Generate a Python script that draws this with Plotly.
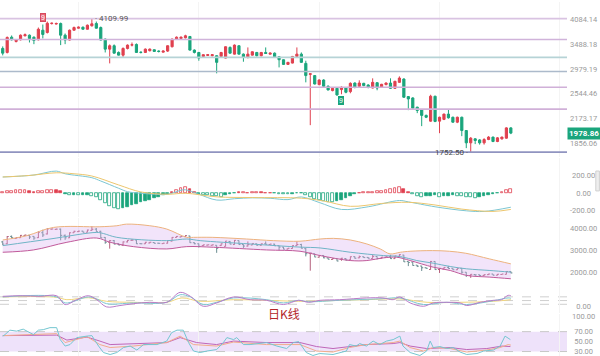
import numpy as np
import plotly.graph_objects as go

# ---------------- candle data ----------------
opens = [3397, 3311, 3650, 3552, 3590, 3683, 3697, 3650, 3590, 3816,
         3761, 3982, 3970, 3982, 3697, 3584, 3816, 3865, 3890, 3840,
         3925, 3982, 3882, 3604, 3382, 3456, 3311, 3255, 3397, 3470,
         3485, 3318, 3311, 3348, 3369, 3340, 3318, 3340, 3434, 3604,
         3620, 3636, 3667, 3361, 3311, 3228, 3249, 3243, 3243, 3228,
         3194, 3419, 3276, 3456, 3276, 3208, 3255, 3311, 3243, 3311,
         3276, 3296, 3222, 3161, 3068, 3094, 3228, 3276, 3088, 2880,
         2857, 2697, 2777, 2668, 2596, 2634, 2612, 2639, 2579, 2724,
         2668, 2719, 2690, 2639, 2730, 2651, 2697, 2724, 2634, 2736,
         2795, 2499, 2477, 2335, 2295, 2216, 2136, 2504, 2136, 2160,
         2234, 2190, 2122, 2190, 2012, 1860, 1908, 1895, 1860, 1900,
         1929, 1876, 1908, 1916, 2046]
highs = [3441, 3667, 3690, 3597, 3714, 3737, 3714, 3667, 3882, 3957,
         4033, 4007, 4007, 4007, 3737, 3833, 3907, 3907, 3907, 3957,
         4109.99, 4033, 3907, 3620, 3485, 3485, 3333, 3419, 3485, 3529,
         3507, 3333, 3397, 3397, 3376, 3354, 3354, 3463, 3620, 3667,
         3667, 3707, 3678, 3376, 3322, 3270, 3270, 3270, 3249, 3322,
         3441, 3441, 3485, 3463, 3290, 3419, 3333, 3322, 3322, 3419,
         3311, 3311, 3228, 3167, 3118, 3238, 3419, 3311, 3141, 2898,
         2861, 2790, 2790, 2685, 2642, 2651, 2668, 2651, 2736, 2736,
         2772, 2728, 2702, 2807, 2736, 2710, 2736, 2807, 2763, 2843,
         2807, 2504, 2488, 2342, 2306, 2227, 2528, 2512, 2198, 2241,
         2302, 2198, 2198, 2198, 2016, 1929, 1916, 1904, 1916, 1941,
         1935, 1929, 1935, 2055, 2055]
lows = [3249, 3290, 3575, 3529, 3575, 3667, 3529, 3491, 3575, 3620,
        3737, 3957, 3957, 3470, 3491, 3575, 3809, 3858, 3833, 3833,
        3907, 3858, 3575, 3311, 3088, 3290, 3249, 3208, 3376, 3441,
        3300, 3290, 3300, 3333, 3322, 3311, 3311, 3322, 3419, 3597,
        3608, 3620, 3354, 3290, 3141, 3208, 3238, 3228, 2898, 3208,
        3187, 3290, 3270, 3270, 3121, 3187, 3249, 3228, 3228, 3280,
        3270, 3208, 3010, 3058, 3058, 3088, 3218, 3098, 2736, 2082,
        2700, 2685, 2651, 2601, 2584, 2512, 2536, 2552, 2552, 2634,
        2651, 2668, 2634, 2634, 2601, 2642, 2685, 2626, 2626, 2728,
        2480, 2291, 2313, 2248, 2069, 2178, 2129, 2122, 1978, 2150,
        2171, 2115, 2109, 1941, 1798, 1752.5, 1845, 1839, 1839, 1892,
        1868, 1868, 1898, 1910, 1966]
closes = [3296, 3643, 3590, 3590, 3697, 3707, 3620, 3575, 3840, 3714,
          3990, 3990, 3982, 3697, 3584, 3816, 3882, 3890, 3840, 3940,
          3975, 3865, 3584, 3382, 3456, 3296, 3255, 3397, 3470, 3478,
          3311, 3311, 3382, 3382, 3333, 3333, 3340, 3456, 3604, 3650,
          3650, 3683, 3361, 3311, 3194, 3264, 3264, 3264, 3108, 3311,
          3434, 3296, 3470, 3276, 3208, 3276, 3326, 3243, 3311, 3290,
          3296, 3222, 3161, 3068, 3108, 3228, 3276, 3108, 2857, 2889,
          2707, 2777, 2668, 2606, 2634, 2525, 2651, 2568, 2719, 2651,
          2724, 2680, 2651, 2736, 2639, 2702, 2724, 2634, 2754, 2812,
          2488, 2461, 2320, 2287, 2216, 2190, 2504, 2132, 2190, 2234,
          2182, 2122, 2190, 2012, 1860, 1916, 1888, 1860, 1900, 1929,
          1876, 1920, 1929, 2046, 1978.86]

# fib retracement levels and price-axis tick labels
fib_levels = [4109.99, 3596, 3209, 2931, 2653, 2307, 1752.5]
price_ticks = [4084.14, 3488.18, 2979.19, 2544.46, 2173.17, 1856.06]
last_price = 1978.86
high_idx, high_val = 20, 4109.99
low_idx, low_val = 105, 1752.50
td_sell_idx = 9
td_buy_idx = 76

# MACD histogram per candle
macd_hist = [10, 15, 25, 28, 30, 32, 20, 10, 15, 20, 30, 35, 30, 15,
             -15, -25, -25, -30, -30, -25, -35,
             -50, -85, -115, -145, -170, -185,
             -175, -155, -135, -120, -105, -90, -75, -60, -45, -30, -15,
             10, 30, 50, 60, 40, 10,
             -10, -20, -30, -35, -40, -45, -25, -10, -5,
             5, 6, 3, 4, 6, 5, 3, 2,
             -3, -10, -15, -18, -8, -3, -5,
             -30, -50, -65, -80, -90, -100, -105,
             -90, -75, -55, -35, -15,
             3, 5, 8, 12, 18, 25, 30, 40, 50, 60, 40, 10,
             -15, -35, -50, -40, -35, -30, -45, -40, -35, -30, -35, -40,
             -45, -50, -55, -45, -35, -25, -10, -5,
             10, 30, 45]
macd_ticks = [200, 0, -200]
dif_x = [0, 7, 12, 14, 20, 22, 26, 28, 31, 37, 40, 41, 44, 48, 52, 56, 60,
         64, 67, 71, 76, 82, 89, 91, 97, 104, 108, 114]
dif_y = [178, 200, 244, 214, 170, 133, 52, 14, -4, -15, 30, 35, -15, -80,
         -65, -55, -60, -75, -45, -107, -185, -155, -85, -100, -155, -200,
         -207, -160]
dea_x = [0, 6, 12, 16, 20, 26, 31, 37, 41, 48, 56, 67, 72, 78, 85, 91, 97,
         103, 110, 114]
dea_y = [178, 195, 225, 214, 189, 89, 11, -15, -4, -44, -52, -59, -90, -150,
         -118, -105, -135, -181, -207, -185]

# Bollinger bands
boll_ticks = [4000, 3000, 2000]
boll_up_x = [0, 5.4, 11.4, 21.8, 25.6, 27.8, 33, 36.8, 41.3, 42.8, 47, 54.7,
             60.7, 66.7, 71.2, 74.2, 78, 81.7, 84.7, 86.9, 89.2, 91.4, 96.4,
             100.2, 103.9, 109.2, 114]
boll_up_y = [3485, 3682, 4060, 4090, 4136, 4210, 4136, 3985, 3606, 3606,
             3606, 3530, 3455, 3430, 3530, 3560, 3485, 3303, 3076, 2849,
             2924, 2970, 3000, 2970, 2879, 2621, 2394]
boll_mid_x = [0, 10.6, 21.1, 22.6, 25.6, 36.8, 41.3, 44.3, 55.5, 66.7, 71.2,
              78, 85.4, 89.2, 92.9, 96.6, 100.4, 104.1, 109.3, 114]
boll_mid_y = [3227, 3530, 3830, 3780, 3606, 3455, 3530, 3455, 3303, 3160,
              3121, 2924, 2773, 2727, 2545, 2424, 2273, 2167, 2091, 2015]
boll_low_x = [0, 6.9, 14.4, 21.1, 24.1, 29.3, 36.8, 41.3, 47.3, 59.2, 66.7,
              71.2, 78, 81.7, 85.4, 88.4, 91.4, 96.6, 100.4, 104.1, 109.3, 114]
boll_low_y = [2924, 3030, 3380, 3575, 3380, 3182, 3076, 3182, 3152, 3030,
              2970, 2773, 2545, 2545, 2667, 2697, 2545, 2242, 2091, 1864,
              1788, 1712]

# KDJ
kdj_ticks = [0]
kdj_j_x = [0, 3.9, 8.4, 12.1, 14, 16.6, 19.2, 21.1, 23.3, 26.3, 29.3, 33,
           36.8, 39.8, 42.1, 45, 48, 51.8, 55.5, 59.2, 63, 66.4, 68.6, 71.2,
           75.6, 81.6, 85.3, 87.6, 89.1, 91.4, 94.4, 96.6, 99.6, 102.6,
           104.1, 107.1, 110.1, 111.9, 113.4, 114]
kdj_j_y = [84, 89, 84, 89, 18, 57, 89, 57, -1, 10, 25, 36, 36, 116, 84, 4,
           31, 79, 57, 52, 18, 52, 36, 52, 57, 71, 71, 57, 79, 31, 4, 31, 36,
           31, 10, 36, 52, 57, 92, 89]
kdj_k_x = [0, 12.1, 14, 19.2, 21.1, 23.3, 29.3, 36.8, 39.8, 42.1, 45, 48,
           51.8, 59.2, 63, 66.4, 68.6, 75.6, 85.3, 89.1, 94.4, 99.6, 104.1,
           110.1, 113.4, 114]
kdj_k_y = [79, 79, 31, 79, 63, 25, 31, 36, 97, 79, 18, 36, 71, 57, 31, 52,
           41, 52, 65, 71, 18, 36, 18, 49, 71, 68]
kdj_d_x = [0, 12.1, 14.4, 19.2, 23.3, 29.3, 36.8, 40.2, 44.3, 51.8, 59.2,
           66.4, 71.2, 81.6, 89.1, 95.2, 102.6, 110.1, 114]
kdj_d_y = [79, 76, 57, 73, 44, 36, 36, 71, 44, 57, 52, 44, 47, 57, 63, 36,
           36, 44, 57]
kdj_lines = [20, 50, 80]

# RSI
rsi6_x = [0, 0.5, 1.6, 3.1, 4.6, 6.9, 8, 9.1, 10.6, 12.1, 12.9, 14, 15.1,
          16.6, 18.9, 20, 21.5, 22.6, 24.1, 25.6, 27.1, 28.6, 30.1, 31.6,
          34.6, 36.8, 37.9, 39.1, 40.5, 41.7, 42.8, 44.3, 45.8, 48, 49.5,
          50.3, 51.8, 52.5, 54, 55.5, 59.2, 61.5, 63.7, 65.2, 66.4, 68.1,
          69.6, 71.1, 74.1, 77.1, 77.8, 79.3, 80.1, 81.6, 83.1, 84.6, 86.1,
          87.6, 89.1, 89.8, 91.4, 93.6, 95.1, 95.9, 96.6, 98.1, 99.6, 101.1,
          102.6, 104.1, 106.4, 107.9, 110.1, 111.6, 112.7, 113.9]
rsi6_y = [61, 64, 73, 71, 75, 64, 73, 74, 78, 78, 54, 41, 44, 58, 61, 62,
          41, 28, 24, 28, 38, 41, 33, 44, 44, 51, 68, 73, 73, 48, 31, 28, 31,
          34, 48, 58, 54, 58, 44, 44, 48, 41, 36, 48, 50, 28, 22, 26, 24, 31,
          44, 41, 46, 41, 51, 44, 51, 54, 61, 41, 28, 22, 31, 51, 38, 40, 36,
          38, 29, 24, 26, 31, 33, 41, 61, 54]
rsi12_x = [0, 6.9, 12.1, 14, 18.9, 21.8, 24.1, 29.3, 36.8, 39.8, 42.8, 48,
           51.8, 59.2, 66.7, 70.4, 74.1, 77.8, 81.6, 87.6, 89.1, 91.4, 94.4,
           96.6, 100.4, 104.1, 108.6, 111.6, 113.4, 114]
rsi12_y = [62, 64, 66, 48, 60, 44, 38, 41, 48, 61, 44, 41, 49, 44, 44, 31,
           29, 38, 44, 48, 51, 38, 31, 38, 36, 29, 33, 38, 44, 43]
rsi24_x = [0, 12.1, 14.4, 18.9, 21.8, 24.1, 36.8, 39.8, 43.5, 48, 51.8,
           59.2, 66.7, 70.4, 74.1, 77.8, 81.6, 87.6, 89.1, 91.4, 95.1, 100.4,
           104.1, 108.6, 112, 113.9]
rsi24_y = [62, 63, 53, 59, 51, 44, 48, 58, 48, 44, 51, 48, 48, 40, 36, 40,
           44, 46, 48, 41, 36, 38, 34, 36, 41, 40]
rsi_ticks = [100, 70, 50, 30]
rsi_band = [30, 70]

# ---------------- styling ----------------
UP = "#E0404F"
DOWN = "#1AA57C"
W, H = 600, 356
XR = 0.945                      # fraction of width used by the plot area
xrange_ = [-0.61, 126.6]
n = len(closes)
idx = list(range(n))


def dom(top_px, bot_px):
    return [1 - bot_px / H, 1 - top_px / H]


def label(v):
    """format a tick label, padded on the left so labels sit centred"""
    s = f"{v:.2f}"
    missing = max(0, 7 - len(s))
    return "\u2007" * (missing // 2) + "\u2008" * (missing % 2) + s


fig = go.Figure()

# fib lines (main panel)
fib_colors = ["#d9c3e2", "#d0b3da", "#b6d3d6", "#acbacb", "#d0b0d8",
              "#d0b0d8", "#9094c0"]
for lvl, col in zip(fib_levels, fib_colors):
    fig.add_trace(go.Scatter(x=xrange_, y=[lvl, lvl], mode="lines",
                             line=dict(color=col, width=1.6),
                             hoverinfo="skip", showlegend=False,
                             xaxis="x", yaxis="y"))

fig.add_trace(go.Candlestick(
    x=idx, open=opens, high=highs, low=lows, close=closes,
    increasing=dict(line=dict(color=UP, width=1), fillcolor=UP),
    decreasing=dict(line=dict(color=DOWN, width=1), fillcolor=DOWN),
    whiskerwidth=0, showlegend=False, hoverinfo="skip",
    xaxis="x", yaxis="y"))

# MACD
fill_cols, line_cols = [], []
for i, h in enumerate(macd_hist):
    c = UP if h >= 0 else DOWN
    prev = abs(macd_hist[i - 1]) if i > 0 else 0
    hollow = abs(h) > prev
    line_cols.append(c)
    fill_cols.append("white" if hollow else c)
fig.add_trace(go.Bar(x=idx, y=macd_hist, marker=dict(color=fill_cols,
                     line=dict(color=line_cols, width=0.8)),
                     width=0.62, showlegend=False, hoverinfo="skip",
                     xaxis="x", yaxis="y2"))
fig.add_trace(go.Scatter(x=dif_x, y=dif_y, mode="lines", line_shape="spline",
                         line=dict(color="#7cc6d2", width=1), hoverinfo="skip",
                         showlegend=False, xaxis="x", yaxis="y2"))
fig.add_trace(go.Scatter(x=dea_x, y=dea_y, mode="lines", line_shape="spline",
                         line=dict(color="#ecc66e", width=1), hoverinfo="skip",
                         showlegend=False, xaxis="x", yaxis="y2"))

# BOLL
fig.add_trace(go.Scatter(x=boll_up_x, y=boll_up_y, mode="lines",
                         line_shape="spline",
                         line=dict(color="#ecb27e", width=1), hoverinfo="skip",
                         showlegend=False, xaxis="x", yaxis="y3"))
fig.add_trace(go.Scatter(x=boll_low_x, y=boll_low_y, mode="lines",
                         line_shape="spline", fill="tonexty",
                         fillcolor="rgba(214,170,238,0.32)",
                         line=dict(color="#c05a9a", width=1), hoverinfo="skip",
                         showlegend=False, xaxis="x", yaxis="y3"))
fig.add_trace(go.Scatter(x=boll_mid_x, y=boll_mid_y, mode="lines",
                         line_shape="spline",
                         line=dict(color="#6fb4c6", width=1), hoverinfo="skip",
                         showlegend=False, xaxis="x", yaxis="y3"))
fig.add_trace(go.Ohlc(x=idx, open=opens, high=highs, low=lows, close=closes,
                      increasing=dict(line=dict(color="#b4607c", width=1)),
                      decreasing=dict(line=dict(color="#6a8c90", width=1)),
                      tickwidth=0.35, showlegend=False, hoverinfo="skip",
                      xaxis="x", yaxis="y3"))

# KDJ
for xs, ys, col in [(kdj_d_x, kdj_d_y, "#f0d47a"),
                    (kdj_k_x, kdj_k_y, "#7cc6d2"),
                    (kdj_j_x, kdj_j_y, "#b97ac8")]:
    fig.add_trace(go.Scatter(x=xs, y=ys, mode="lines", line_shape="spline",
                             line=dict(color=col, width=1), hoverinfo="skip",
                             showlegend=False, xaxis="x", yaxis="y4"))

# RSI
for xs, ys, col in [(rsi24_x, rsi24_y, "#bf66b8"),
                    (rsi12_x, rsi12_y, "#f2ac8c"),
                    (rsi6_x, rsi6_y, "#74c6d0")]:
    fig.add_trace(go.Scatter(x=xs, y=ys, mode="lines",
                             line=dict(color=col, width=1), hoverinfo="skip",
                             showlegend=False, xaxis="x", yaxis="y5"))

shapes = []
for v in kdj_lines:
    shapes.append(dict(type="line", xref="x", yref="y4", x0=xrange_[0],
                       x1=xrange_[1], y0=v, y1=v,
                       line=dict(color="#cfcfcf", width=1, dash="dash"),
                       layer="below"))
shapes.append(dict(type="rect", xref="x", yref="y5", x0=xrange_[0],
                   x1=xrange_[1], y0=rsi_band[0], y1=rsi_band[1],
                   fillcolor="rgba(222,198,246,0.50)", line=dict(width=0),
                   layer="below"))
for v in rsi_band:
    shapes.append(dict(type="line", xref="x", yref="y5", x0=xrange_[0],
                       x1=xrange_[1], y0=v, y1=v,
                       line=dict(color="#c8c8c8", width=1, dash="dash"),
                       layer="below"))
# scrollbar thumb at far right
shapes.append(dict(type="rect", xref="paper", yref="paper", x0=0.993, x1=0.999,
                   y0=1 - 190 / H, y1=1 - 170 / H, fillcolor="#eeeeee",
                   line=dict(color="#d0d0d0", width=1)))

tick_font = dict(family="Roboto, Arial, sans-serif", size=7.5,
                 color="#9a9a9a")


def yax(domain, rng, tickvals, typ="linear"):
    return dict(domain=domain, range=rng, type=typ, side="right",
                anchor="x", tickvals=tickvals,
                ticktext=[label(v) for v in tickvals],
                tickfont=tick_font, showgrid=False, zeroline=False,
                showline=False, ticks="", ticklabelstandoff=2,
                ticklabeloverflow="allow", fixedrange=True)


annotations = [
    dict(x=high_idx, y=np.log10(high_val), xref="x", yref="y",
         text="· " + f"{high_val:.2f}", showarrow=False, xanchor="left",
         yanchor="middle", xshift=1,
         font=dict(family="Roboto, Arial", size=8, color="#555")),
    dict(x=low_idx, y=np.log10(low_val), xref="x", yref="y",
         text=f"{low_val:.2f}" + " ·", showarrow=False, xanchor="right",
         yanchor="middle", xshift=-1,
         font=dict(family="Roboto, Arial", size=8, color="#444")),
    dict(x=td_sell_idx, y=np.log10(highs[td_sell_idx]), xref="x", yref="y",
         text="9", showarrow=False, yanchor="bottom", yshift=3,
         bgcolor="#e8687a", bordercolor="#d84a5e", borderpad=0,
         font=dict(family="Arial", size=7, color="white")),
    dict(x=td_buy_idx, y=np.log10(lows[td_buy_idx]), xref="x", yref="y",
         text="9", showarrow=False, yanchor="top", yshift=-2,
         bgcolor=DOWN, bordercolor=DOWN, borderpad=0,
         font=dict(family="Arial", size=7, color="white")),
    dict(x=583.5 / W, y=np.log10(last_price), xref="paper", yref="y",
         text=f"<b>{last_price:.2f}</b>", showarrow=False, xanchor="center",
         yanchor="middle", bgcolor="#1AA57C", borderpad=1,
         font=dict(family="Roboto, Arial", size=8, color="white")),
    dict(x=283.5 / W, y=1 - 324 / H, xref="paper", yref="paper",
         text="日K线", showarrow=False,
         font=dict(family="Noto Sans CJK SC", size=12, color="#b3262a")),
]

fig.update_layout(
    width=W, height=H, margin=dict(l=0, r=0, t=0, b=0),
    paper_bgcolor="white", plot_bgcolor="white",
    hovermode=False, showlegend=False, bargap=0,
    xaxis=dict(domain=[0, XR], range=xrange_, showticklabels=False,
               showgrid=True, gridcolor="#f4f4f4", dtick=27, tick0=17,
               zeroline=False, showline=False, ticks="",
               rangeslider=dict(visible=False), fixedrange=True),
    yaxis=yax(dom(0, 156), [3.2299, 3.6598], price_ticks, typ="log"),
    yaxis2=yax(dom(157, 216), [-267, 389], macd_ticks),
    yaxis3=yax(dom(217, 284), [1455, 4500], boll_ticks),
    yaxis4=yax(dom(285, 313), [-52, 172], kdj_ticks),
    yaxis5=yax(dom(314, 356), [21, 105], rsi_ticks),
    shapes=shapes, annotations=annotations,
)

fig.write_html("out.html", config={"displayModeBar": False},
               post_script="document.body.style.margin='0';"
                           "document.body.style.overflow='hidden';")
